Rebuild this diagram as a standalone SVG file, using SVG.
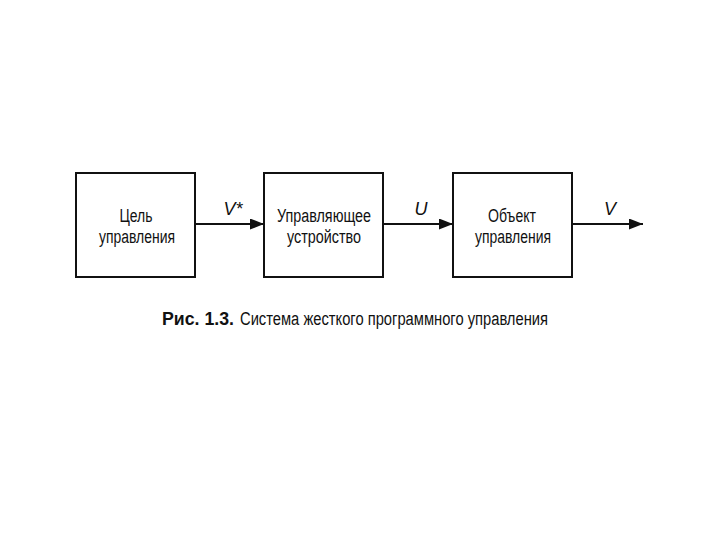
<svg xmlns="http://www.w3.org/2000/svg" width="720" height="540" viewBox="0 0 720 540">
<defs>
<marker id="ah" viewBox="0 0 14 11" refX="14" refY="5.5" markerWidth="14" markerHeight="11" markerUnits="userSpaceOnUse" orient="auto">
<path d="M0,0 L14,5.5 L0,11 Z" fill="#111"/>
</marker>
<style>
.box{fill:#fff;stroke:#111;stroke-width:2}
.t{font-family:"Liberation Sans",Arial,sans-serif;font-size:18px;fill:#111;text-anchor:middle}
.lbl{font-family:"Liberation Sans",Arial,sans-serif;font-size:18px;font-style:italic;fill:#111;text-anchor:middle}
.c{stroke:#111;stroke-width:2.2;fill:none;marker-end:url(#ah)}
.cap{font-family:"Liberation Sans",Arial,sans-serif;font-size:18px;fill:#111}
</style>
</defs>
<rect width="720" height="540" fill="#fff"/>
<g id="connectors">
<line class="c" x1="195" y1="224" x2="264" y2="224"/>
<line class="c" x1="383" y1="224" x2="453" y2="224"/>
<line class="c" x1="572" y1="224" x2="643" y2="224"/>
<text class="lbl" x="233" y="215">V*</text>
<text class="lbl" x="421" y="215">U</text>
<text class="lbl" x="610" y="215">V</text>
</g>
<g id="goal">
<rect class="box" x="76" y="173" width="119" height="104"/>
<text class="t" x="136" y="222" textLength="33" lengthAdjust="spacingAndGlyphs">Цель</text>
<text class="t" x="137" y="243" textLength="76" lengthAdjust="spacingAndGlyphs">управления</text>
</g>
<g id="controller">
<rect class="box" x="264" y="173" width="119" height="104"/>
<text class="t" x="324" y="222" textLength="94" lengthAdjust="spacingAndGlyphs">Управляющее</text>
<text class="t" x="324" y="243" textLength="74" lengthAdjust="spacingAndGlyphs">устройство</text>
</g>
<g id="object">
<rect class="box" x="453" y="173" width="119" height="104"/>
<text class="t" x="512" y="222" textLength="48" lengthAdjust="spacingAndGlyphs">Объект</text>
<text class="t" x="513" y="243" textLength="76" lengthAdjust="spacingAndGlyphs">управления</text>
</g>
<g id="caption">
<text class="cap" x="162" y="325" font-weight="bold" textLength="72" lengthAdjust="spacingAndGlyphs">Рис. 1.3.</text>
<text class="cap" x="240" y="325" textLength="308" lengthAdjust="spacingAndGlyphs">Система жесткого программного управления</text>
</g>
</svg>
